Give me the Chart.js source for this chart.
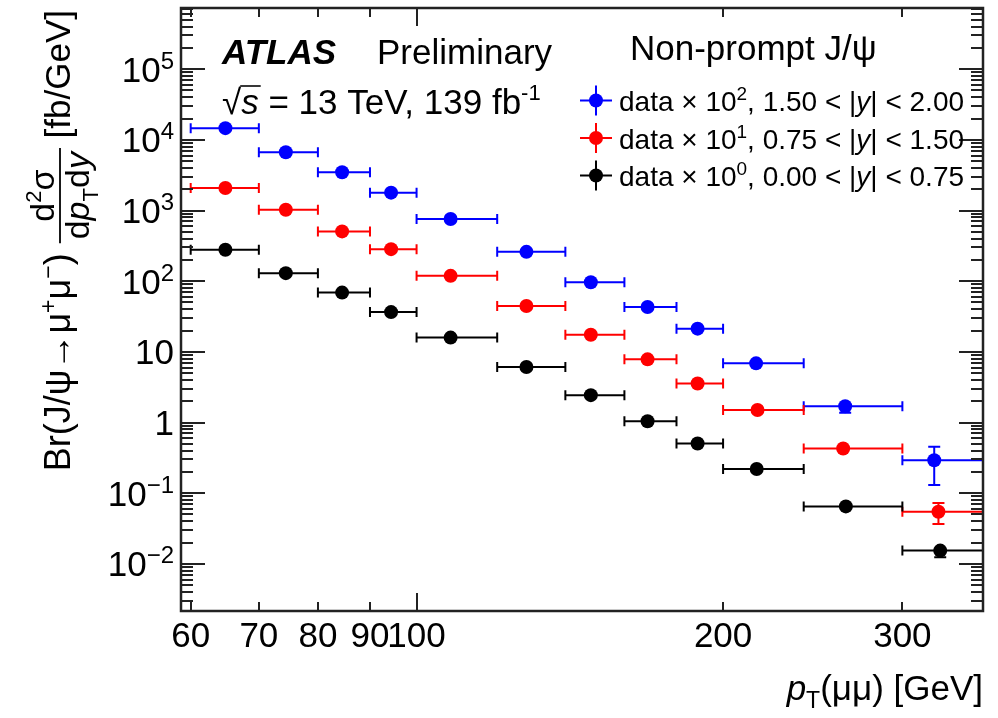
<!DOCTYPE html>
<html>
<head>
<meta charset="utf-8">
<script src="https://cdn.jsdelivr.net/npm/chart.js@4.4.1/dist/chart.umd.min.js"></script>
<style>
  html, body { margin: 0; padding: 0; background: #fff; }
</style>
</head>
<body>
<canvas id="c" width="998" height="718"></canvas>
<script>
// pT(mumu) bin edges [GeV]
const binLo = [60, 70, 80, 90, 100, 120, 140, 160, 180, 200, 240, 300];
const binHi = [70, 80, 90, 100, 120, 140, 160, 180, 200, 240, 300, 360];

// mean pT of each bin (marker position)
const ptBlue  = [64.9, 74.4, 84.5, 94.4, 108.0, 128.2, 148.3, 168.6, 188.8, 215.5, 263.6, 322.4];
const ptRed   = [64.9, 74.4, 84.5, 94.4, 108.0, 128.2, 148.3, 168.6, 188.8, 216.2, 262.4, 325.5];
const ptBlack = [64.9, 74.4, 84.5, 94.4, 108.0, 128.2, 148.3, 168.6, 188.8, 215.8, 264.0, 326.8];

// Br x d2sigma/dpT dy [fb/GeV], scaled as in the legend
const xsBlue  = [14660, 6690, 3480, 1790, 757, 260, 96.5, 43.2, 21.3, 6.87, 1.70, 0.292];
const xsRed   = [2085, 1027, 507, 284, 119, 44.6, 17.5, 7.83, 3.57, 1.50, 0.428, 0.0547];
const xsBlack = [278, 130, 69, 36.5, 15.9, 6.1, 2.44, 1.04, 0.504, 0.22, 0.065, 0.0154];

// vertical uncertainties
const errBlue  = [150, 80, 40, 20, 9, 3, 1.2, 0.6, 0.35, 0.2, 0.33, 0.162];
const errRed   = [25, 12, 6, 3.5, 1.5, 0.6, 0.25, 0.12, 0.06, 0.03, 0.02, 0.018];
const errBlack = [3, 1.5, 0.8, 0.45, 0.2, 0.08, 0.03, 0.015, 0.008, 0.005, 0.009, 0.003];

const legendExp = ['2', '1', '0'];
const legendRange = ['1.50 < |', '0.75 < |', '0.00 < |'];
const legendRangeHi = ['| < 2.00', '| < 1.50', '| < 0.75'];

const yDecades = [-2, -1, 0, 1, 2, 3, 4, 5];
const xTickLabels = [60, 70, 80, 90, 100, 200, 300];

const FONT = "'Liberation Sans', Arial, Helvetica, sans-serif";

function font(size, style) {
  return (style || '') + ' ' + size + 'px ' + FONT;
}

// draw a list of text runs one after another, returns the end position
function runs(ctx, x, y, list, measureOnly) {
  let cx = x;
  list.forEach(r => {
    ctx.font = font(r.size, r.style);
    if (!measureOnly) ctx.fillText(r.t, cx, y + (r.dy || 0));
    cx += ctx.measureText(r.t).width;
  });
  return cx;
}

function makeSet(label, color, xs, ys, errs) {
  return {
    label,
    data: xs.map((v, i) => ({ x: v, y: ys[i] })),
    yErr: errs,
    barColor: color,
    backgroundColor: color,
    borderColor: color,
    pointRadius: 7,
    pointHoverRadius: 7,
    borderWidth: 0,
    showLine: false
  };
}

const errorBars = {
  id: 'errorBars',
  beforeDatasetsDraw(chart) {
    const { ctx, scales: { x, y } } = chart;
    ctx.save();
    ctx.lineWidth = 2;
    chart.data.datasets.forEach(ds => {
      ctx.strokeStyle = ds.barColor;
      ds.data.forEach((p, i) => {
        const px = x.getPixelForValue(p.x);
        const py = y.getPixelForValue(p.y);
        const x0 = x.getPixelForValue(binLo[i]);
        const x1 = x.getPixelForValue(binHi[i]);
        ctx.beginPath();
        ctx.moveTo(x0, py); ctx.lineTo(x1, py);
        ctx.moveTo(x0, py - 5); ctx.lineTo(x0, py + 5);
        ctx.moveTo(x1, py - 5); ctx.lineTo(x1, py + 5);
        ctx.stroke();
        const e = ds.yErr[i];
        const yt = y.getPixelForValue(p.y + e);
        const yb = y.getPixelForValue(Math.max(p.y - e, 1e-6));
        ctx.beginPath();
        if (py - yt > 6) {
          ctx.moveTo(px, py); ctx.lineTo(px, yt);
          ctx.moveTo(px - 6, yt); ctx.lineTo(px + 6, yt);
        }
        if (yb - py > 6) {
          ctx.moveTo(px, py); ctx.lineTo(px, yb);
          ctx.moveTo(px - 6, yb); ctx.lineTo(px + 6, yb);
        }
        ctx.stroke();
      });
    });
    ctx.restore();
  }
};

const rootFrame = {
  id: 'rootFrame',
  afterDraw(chart) {
    const { ctx, chartArea: a, scales: { x, y } } = chart;
    ctx.save();
    ctx.strokeStyle = '#222';
    ctx.fillStyle = '#000';

    // y ticks on left and right sides
    ctx.lineWidth = 2;
    ctx.beginPath();
    for (let n = -3; n <= 5; n++) {
      for (let k = 1; k <= 9; k++) {
        const v = k * Math.pow(10, n);
        if (v < y.min || v > y.max) continue;
        const py = Math.round(y.getPixelForValue(v));
        const len = k === 1 ? 24 : 12;
        ctx.moveTo(a.left, py); ctx.lineTo(a.left + len, py);
        ctx.moveTo(a.right, py); ctx.lineTo(a.right - len, py);
      }
    }
    // x ticks on bottom and top
    xTickLabels.forEach(v => {
      const px = Math.round(x.getPixelForValue(v));
      const len = v === 100 ? 18 : 9;
      ctx.moveTo(px, a.bottom); ctx.lineTo(px, a.bottom - len);
      ctx.moveTo(px, a.top); ctx.lineTo(px, a.top + len);
    });
    ctx.stroke();
    ctx.lineWidth = 2.5;
    ctx.strokeRect(a.left, a.top, a.right - a.left, a.bottom - a.top);

    // y tick labels
    ctx.textBaseline = 'alphabetic';
    yDecades.forEach(n => {
      const py = y.getPixelForValue(Math.pow(10, n));
      const base = py + 12.5;
      let list;
      if (n === 0) list = [{ t: '1', size: 35 }];
      else if (n === 1) list = [{ t: '10', size: 35 }];
      else list = [{ t: '10', size: 35 }, { t: (n < 0 ? '\u2212' : '') + Math.abs(n), size: 24, dy: -13 }];
      const w = runs(ctx, 0, 0, list, true);
      runs(ctx, 174 - w, base, list);
    });

    // x tick labels
    ctx.textAlign = 'center';
    ctx.font = font(35);
    xTickLabels.forEach(v => {
      ctx.fillText(String(v), x.getPixelForValue(v), 647);
    });
    ctx.textAlign = 'left';

    // x title, right aligned to frame
    const xt = [
      { t: 'p', size: 35, style: 'italic' },
      { t: 'T', size: 23, dy: 8 },
      { t: '(\u03bc\u03bc) [GeV]', size: 35 }
    ];
    const xtw = runs(ctx, 0, 0, xt, true);
    runs(ctx, a.right - xtw, 700, xt);

    // y title, rotated, ending near the top of the frame
    const partA = [
      { t: 'Br(J/\u03c8\u2192\u03bc', size: 36 },
      { t: '+', size: 23, dy: -14 },
      { t: '\u03bc', size: 36 },
      { t: '\u2212', size: 23, dy: -14 },
      { t: ') ', size: 36 }
    ];
    const num = [
      { t: 'd', size: 34 },
      { t: '2', size: 22, dy: -13 },
      { t: '\u03c3', size: 34 }
    ];
    const den = [
      { t: 'd', size: 34 },
      { t: 'p', size: 34, style: 'italic' },
      { t: 'T', size: 22, dy: 9 },
      { t: 'd', size: 34 },
      { t: 'y', size: 34, style: 'italic' }
    ];
    const partC = [{ t: ' [fb/GeV]', size: 35 }];
    const wA = runs(ctx, 0, 0, partA, true);
    const wN = runs(ctx, 0, 0, num, true);
    const wD = runs(ctx, 0, 0, den, true);
    const wF = Math.max(wN, wD) + 8;
    const wC = runs(ctx, 0, 0, partC, true);
    const total = wA + wF + wC;
    const baseX = 70;
    ctx.save();
    ctx.translate(baseX, 10 + total);
    ctx.rotate(-Math.PI / 2);
    runs(ctx, 0, 0, partA);
    const f0 = wA;
    runs(ctx, f0 + (wF - wN) / 2, -16, num);
    runs(ctx, f0 + (wF - wD) / 2, 19, den);
    ctx.lineWidth = 1.8;
    ctx.strokeStyle = '#000';
    ctx.beginPath();
    ctx.moveTo(f0, -10); ctx.lineTo(f0 + wF, -10);
    ctx.stroke();
    runs(ctx, f0 + wF, 0, partC);
    ctx.restore();

    // ATLAS label
    ctx.font = font(35, 'italic bold');
    ctx.fillText('ATLAS', 222, 64);
    ctx.font = font(35);
    ctx.fillText('Preliminary', 377, 64);

    // sqrt(s) line
    ctx.font = font(35);
    ctx.fillText('\u221a', 222, 114);
    const sx = 222 + ctx.measureText('\u221a').width;
    ctx.font = font(35, 'italic');
    ctx.fillText('s', sx, 114);
    const sw = ctx.measureText('s').width;
    ctx.lineWidth = 1.8;
    ctx.beginPath();
    ctx.moveTo(sx - 1, 86); ctx.lineTo(sx + sw + 2, 86);
    ctx.stroke();
    runs(ctx, sx + sw, 114, [
      { t: ' = 13 TeV, 139 fb', size: 35 },
      { t: '-1', size: 22, dy: -14 }
    ]);

    // legend
    ctx.font = font(35);
    ctx.fillText('Non-prompt J/\u03c8', 630, 60);
    chart.data.datasets.forEach((ds, i) => {
      const my = 100.5 + i * 37.5;
      const mx = 596;
      ctx.strokeStyle = ds.barColor;
      ctx.fillStyle = ds.barColor;
      ctx.lineWidth = 2;
      ctx.beginPath();
      ctx.moveTo(mx - 16, my); ctx.lineTo(mx + 16, my);
      ctx.moveTo(mx, my - 15); ctx.lineTo(mx, my + 15);
      ctx.stroke();
      ctx.beginPath();
      ctx.arc(mx, my, 7, 0, Math.PI * 2);
      ctx.fill();
      ctx.fillStyle = '#000';
      runs(ctx, 619, my + 10.5, [
        { t: 'data \u00d7 10', size: 28 },
        { t: legendExp[i], size: 19, dy: -11 },
        { t: ', ' + legendRange[i], size: 28 },
        { t: 'y', size: 28, style: 'italic' },
        { t: legendRangeHi[i], size: 28 }
      ]);
    });
    ctx.restore();
  }
};

new Chart(document.getElementById('c'), {
  type: 'scatter',
  data: {
    datasets: [
      makeSet('data x 10^2, 1.50 < |y| < 2.00', '#0000ff', ptBlue, xsBlue, errBlue),
      makeSet('data x 10^1, 0.75 < |y| < 1.50', '#ff0000', ptRed, xsRed, errRed),
      makeSet('data x 10^0, 0.00 < |y| < 0.75', '#000000', ptBlack, xsBlack, errBlack)
    ]
  },
  options: {
    responsive: false,
    animation: false,
    layout: { padding: { left: 181, right: 15, top: 8, bottom: 107 } },
    plugins: { legend: { display: false }, tooltip: { enabled: false } },
    scales: {
      x: { type: 'logarithmic', min: 58.7, max: 360, display: false },
      y: { type: 'logarithmic', min: 2.15e-3, max: 7.35e5, display: false }
    }
  },
  plugins: [errorBars, rootFrame]
});
</script>
</body>
</html>
